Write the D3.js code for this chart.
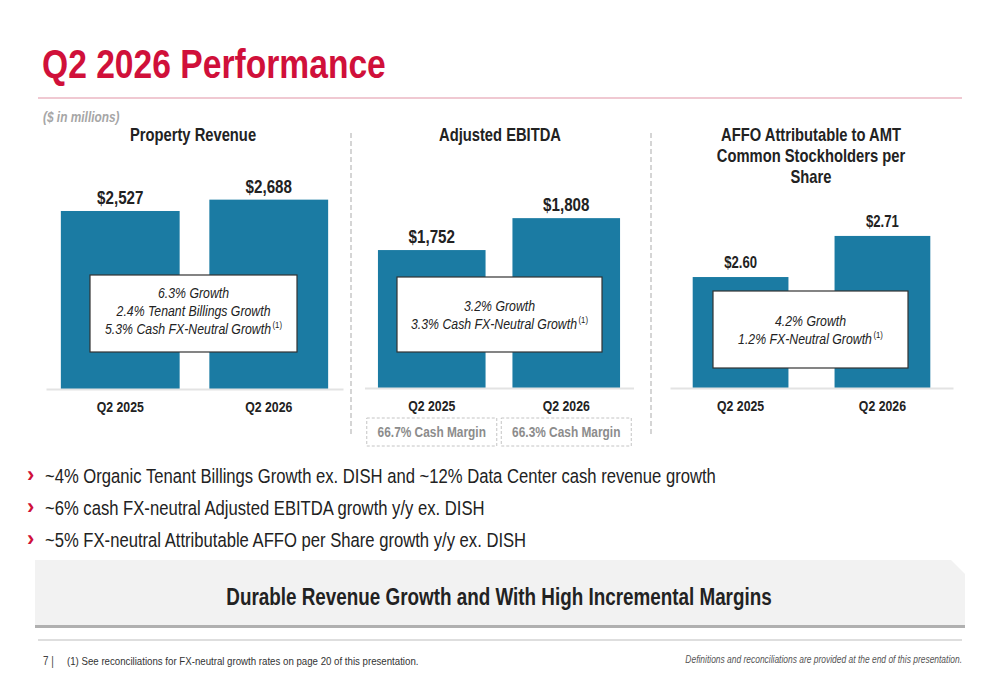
<!DOCTYPE html>
<html>
<head>
<meta charset="utf-8">
<script src="https://cdn.jsdelivr.net/npm/d3@7"></script>
<style>
  html, body { margin: 0; padding: 0; background: #fff; }
  svg { display: block; }
  text { font-family: "Liberation Sans Narrow", "Arial Narrow", "Liberation Sans", Arial, sans-serif; }
</style>
</head>
<body>
<svg id="chart" width="1000" height="685"></svg>
<script>
// ---------------- DATA ----------------
const pageTitle = "Q2 2026 Performance";
const unitNote = "($ in millions)";
const categories = ["Q2 2025", "Q2 2026"];
const panelTitles = [
  ["Property Revenue"],
  ["Adjusted EBITDA"],
  ["AFFO Attributable to AMT", "Common Stockholders per", "Share"]
];
const propertyRevenue = [2527, 2688];
const adjustedEbitda = [1752, 1808];
const affoPerShare = [2.60, 2.71];
const propertyRevenueLabels = ["$2,527", "$2,688"];
const adjustedEbitdaLabels = ["$1,752", "$1,808"];
const affoPerShareLabels = ["$2.60", "$2.71"];
const growthNotes = [
  [["6.3% Growth", false], ["2.4% Tenant Billings Growth", false], ["5.3% Cash FX-Neutral Growth", true]],
  [["3.2% Growth", false], ["3.3% Cash FX-Neutral Growth", true]],
  [["4.2% Growth", false], ["1.2% FX-Neutral Growth", true]]
];
const footnoteMark = "(1)";
const cashMargins = ["66.7% Cash Margin", "66.3% Cash Margin"];
const bullets = [
  "~4% Organic Tenant Billings Growth ex. DISH and ~12% Data Center cash revenue growth",
  "~6% cash FX-neutral Adjusted EBITDA growth y/y ex. DISH",
  "~5% FX-neutral Attributable AFFO per Share growth y/y ex. DISH"
];
const takeaway = "Durable Revenue Growth and With High Incremental Margins";
const footnote = "See reconciliations for FX-neutral growth rates on page 20 of this presentation.";
const pageNumber = "7";
const footRight = "Definitions and reconciliations are provided at the end of this presentation.";

// ---------------- STYLE ----------------
const RED = "#D0103A";
const BAR = "#1B7BA3";
const INK = "#222222";
const NARROW = 0.82;   // emulate a condensed face

const svg = d3.select("#chart");

// text helper: condensed horizontally with a transform
function txt(parent, x, y, size, str, opts = {}) {
  const t = parent.append("text").attr("x", 0).attr("y", 0).attr("font-size", size)
    .attr("fill", opts.fill || INK).text(str)
    .attr("transform", `translate(${x},${y}) scale(${NARROW},1)`);
  if (opts.bold) t.attr("font-weight", "bold");
  if (opts.italic) t.attr("font-style", "italic");
  if (opts.anchor) t.attr("text-anchor", opts.anchor);
  return t;
}
const widthOf = t => t.node().getComputedTextLength() * NARROW;

// Title
txt(svg, 42, 78, 41, pageTitle, { bold: true, fill: RED });
svg.append("line").attr("x1", 38).attr("x2", 962).attr("y1", 98).attr("y2", 98)
  .attr("stroke", "#EBB7C3").attr("stroke-width", 1.5);
txt(svg, 43, 122, 14.5, unitNote, { bold: true, italic: true, fill: "#A6A6A6" });

// Panels config (layout only)
const panels = [
  { values: propertyRevenue, labels: propertyRevenueLabels, xr: [46, 343], pi: 0.2, po: 0.1,
    yDomain: [0, 2700], yRange: [389, 198.8], titleX: 193, titleY: 141, labelSize: 18.5, labelGap: 7,
    box: [90, 275, 207, 77], noteY0: 298, margins: false },
  { values: adjustedEbitda, labels: adjustedEbitdaLabels, xr: [364.5, 633.5], pi: 0.2, po: 0.1,
    yDomain: [1510, 1810], yRange: [388, 217], titleX: 500, titleY: 141, labelSize: 18.5, labelGap: 7,
    box: [397, 277, 205, 75], noteY0: 311, margins: true },
  { values: affoPerShare, labels: affoPerShareLabels, xr: [670, 953], pi: 0.325, po: 0.16,
    yDomain: [2.303, 2.72], yRange: [388, 232.2], titleX: 811, titleY: 141, labelSize: 16, labelGap: 9,
    box: [713, 291, 195, 77], noteY0: 326, margins: false }
];

panels.forEach((p, i) => {
  const g = svg.append("g");
  const x = d3.scaleBand().domain(categories).range(p.xr).paddingInner(p.pi).paddingOuter(p.po);
  const y = d3.scaleLinear().domain(p.yDomain).range(p.yRange);

  // title
  panelTitles[i].forEach((t, k) => {
    txt(g, p.titleX, p.titleY + k * 21, 18, t, { bold: true, anchor: "middle" });
  });

  // bars
  g.selectAll("rect.bar").data(p.values).join("rect").attr("class", "bar")
    .attr("x", (d, j) => x(categories[j]))
    .attr("width", x.bandwidth())
    .attr("y", d => y(d))
    .attr("height", d => y.range()[0] - y(d))
    .attr("fill", BAR);

  // baseline axis
  const axis = d3.axisBottom(x).tickSize(0).tickPadding(12);
  const ag = g.append("g").attr("transform", `translate(0,${y.range()[0]})`).call(axis);
  ag.select(".domain").attr("stroke", "#E3E3E3").attr("stroke-width", 2);
  ag.selectAll(".tick text").attr("font-size", 15).attr("font-weight", "bold").attr("fill", INK)
    .attr("font-family", "'Liberation Sans Narrow', 'Arial Narrow', 'Liberation Sans', Arial, sans-serif")
    .attr("transform", `scale(${NARROW},1)`);

  // value labels
  p.values.forEach((v, j) => {
    txt(g, x(categories[j]) + x.bandwidth() / 2, y(v) - p.labelGap, p.labelSize, p.labels[j],
      { bold: true, anchor: "middle" });
  });

  // growth note box
  g.append("rect").attr("x", p.box[0]).attr("y", p.box[1]).attr("width", p.box[2]).attr("height", p.box[3])
    .attr("fill", "#fff").attr("stroke", "#333").attr("stroke-width", 1.2);
  const cx = p.box[0] + p.box[2] / 2;
  growthNotes[i].forEach((ln, k) => {
    const yy = p.noteY0 + k * 18;
    if (ln[1]) {
      const main = txt(g, 0, yy, 15, ln[0], { italic: true });
      const sup = txt(g, 0, yy - 6, 9.5, footnoteMark);
      const mw = widthOf(main), sw = widthOf(sup);
      const start = cx - (mw + sw + 1.5) / 2;
      main.attr("transform", `translate(${start},${yy}) scale(${NARROW},1)`);
      sup.attr("transform", `translate(${start + mw + 1.5},${yy - 6}) scale(${NARROW},1)`);
    } else {
      txt(g, cx, yy, 15, ln[0], { italic: true, anchor: "middle" });
    }
  });

  if (p.margins) {
    cashMargins.forEach((m, j) => {
      const c = x(categories[j]) + x.bandwidth() / 2;
      g.append("rect").attr("x", c - 65).attr("y", 418).attr("width", 130).attr("height", 28)
        .attr("fill", "none").attr("stroke", "#C4C4C4").attr("stroke-width", 1).attr("stroke-dasharray", "3,2");
      txt(g, c, 437, 14.5, m, { bold: true, fill: "#8C8C8C", anchor: "middle" });
    });
  }
});

// dashed separators
[351, 651].forEach(xx => {
  svg.append("line").attr("x1", xx).attr("x2", xx).attr("y1", 133).attr("y2", 436)
    .attr("stroke", "#C8C8C8").attr("stroke-width", 1.5).attr("stroke-dasharray", "5,3");
});

// bullets
bullets.forEach((b, k) => {
  const yy = 483 + k * 32;
  svg.append("text").attr("x", 27).attr("y", yy - 1).attr("font-size", 22).attr("font-weight", "bold")
    .attr("fill", RED).text("›");
  txt(svg, 45, yy, 20.3, b);
});

// takeaway box with chamfered corner & shadow
const boxPath = (ox, oy) => `M${35 + ox},${560 + oy} L${951 + ox},${560 + oy} L${965 + ox},${574 + oy} L${965 + ox},${625 + oy} L${35 + ox},${625 + oy} Z`;
svg.append("path").attr("d", boxPath(0, 3)).attr("fill", "#B0B0B0");
svg.append("path").attr("d", boxPath(0, 0)).attr("fill", "#F2F2F2");
txt(svg, 499, 605, 23, takeaway, { bold: true, anchor: "middle" });

// footer
svg.append("line").attr("x1", 38).attr("x2", 962).attr("y1", 640).attr("y2", 640)
  .attr("stroke", "#BDBDBD").attr("stroke-width", 1);
txt(svg, 43, 665, 12, pageNumber + "  |", { fill: "#444" });
txt(svg, 67, 665, 11.8, "(1)  " + footnote, { fill: "#333" });
txt(svg, 962, 663, 10.3, footRight, { italic: true, fill: "#555", anchor: "end" });
</script>
</body>
</html>
